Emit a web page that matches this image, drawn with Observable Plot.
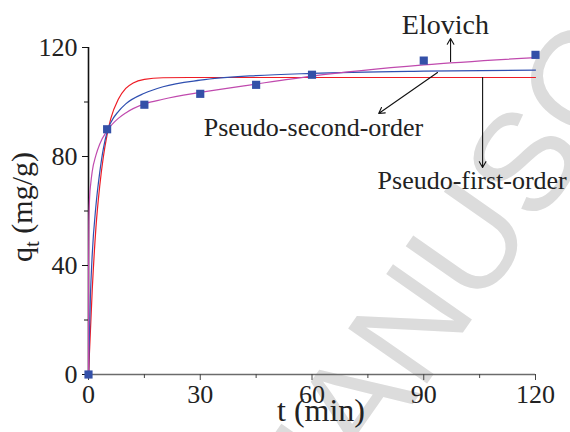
<!DOCTYPE html>
<html>
<head>
<meta charset="utf-8">
<script src="https://cdn.jsdelivr.net/npm/d3@7"></script>
<script src="https://cdn.jsdelivr.net/npm/@observablehq/plot@0.6"></script>
<style>
  html, body { margin: 0; padding: 0; background: #fff; overflow: hidden; }
  #chart { width: 570px; height: 432px; }
</style>
</head>
<body>
<div id="chart"></div>
<script>
// Experimental data (squares)
const expT = [0, 5, 15, 30, 45, 60, 90, 120];
const expQ = [0, 90, 99, 103, 106.3, 110, 115.2, 117.3];

// Pseudo-first-order fitted curve (red)
const pfoT = [0, 1, 2, 3, 4, 5, 6, 8, 10, 12, 15, 20, 30, 60, 90, 120];
const pfoQ = [0, 31, 54, 69, 80, 88, 94, 101, 105, 107, 108.3, 108.9, 109, 109, 109, 109];

// Pseudo-second-order fitted curve (blue)
const psoT = [0, 0.5, 1, 2, 3, 4, 5, 6, 8, 10, 15, 20, 30, 45, 60, 90, 120];
const psoQ = [0, 28, 44, 62, 74, 83, 89, 92.5, 96.5, 99.3, 103.2, 105.6, 108, 109.7, 110.5, 111.3, 111.7];

// Elovich fitted curve (magenta)
const eloT = [0, 0.02, 0.1, 0.3, 0.6, 1, 2, 3, 5, 8, 10, 15, 20, 30, 45, 60, 90, 120];
const eloQ = [0, 40, 56, 65, 70, 74.5, 80.5, 84.5, 89.5, 94, 96, 99.3, 101, 103.5, 106.6, 109.5, 113.6, 116.3];

// Axis ticks
const xMajor = [0, 30, 60, 90, 120];
const xMinor = [15, 45, 75, 105];
const yMajor = [0, 40, 80, 120];
const yMinor = [20, 60, 100];

// Annotations
const labels = ["Elovich", "Pseudo-second-order", "Pseudo-first-order"];
const labelSize = [28, 26, 26];
const labelX = [95.8, 60.4, 103];
const labelY = [128.4, 90.6, 71.2];
const arrowX1 = [97.2, 93.7, 105.8];
const arrowY1 = [114.9, 110.8, 109];
const arrowX2 = [97.2, 77.9, 105.8];
const arrowY2 = [123.3, 95.8, 76];

// Watermark text
const watermark = "MANUSCRIPT";

const toPts = (xs, ys) => xs.map((x, i) => ({x, y: ys[i]}));
const exp = toPts(expT, expQ);
const pfo = toPts(pfoT, pfoQ);
const pso = toPts(psoT, psoQ);
const elo = toPts(eloT, eloQ);
const ann = labels.map((s, i) => ({s, x: labelX[i], y: labelY[i], size: labelSize[i]}));
const arr = arrowX1.map((x1, i) => ({x1, y1: arrowY1[i], x2: arrowX2[i], y2: arrowY2[i]}));

const serif = "Liberation Serif";

const plot = Plot.plot({
  width: 570,
  height: 432,
  marginLeft: 88,
  marginRight: 35,
  marginTop: 47,
  marginBottom: 58,
  style: {background: "#fff", overflow: "visible", color: "#222", fontFamily: serif},
  x: {domain: [0, 120]},
  y: {domain: [0, 120]},
  marks: [
    Plot.ruleY([0], {stroke: "#6b6b6b", strokeWidth: 1.6}),
    Plot.ruleX([0], {stroke: "#111", strokeWidth: 1.6}),
    Plot.axisX({ticks: xMajor, tickSize: 6, tickPadding: 4, fontSize: 26, label: null, stroke: "#444", fontFamily: serif}),
    Plot.axisX({ticks: xMinor, tickSize: 4, tickFormat: () => "", label: null, stroke: "#444"}),
    Plot.axisY({ticks: yMajor, tickSize: 6, tickPadding: 5, fontSize: 26, label: null, stroke: "#111", fontFamily: serif}),
    Plot.axisY({ticks: yMinor, tickSize: 4, tickFormat: () => "", label: null, stroke: "#111"}),
    Plot.line(pfo, {x: "x", y: "y", stroke: "#ee1c25", strokeWidth: 1.2, curve: "monotone-x"}),
    Plot.line(pso, {x: "x", y: "y", stroke: "#2f4fb0", strokeWidth: 1.2, curve: "monotone-x"}),
    Plot.line(elo, {x: "x", y: "y", stroke: "#c04aae", strokeWidth: 1.2, curve: "monotone-x"}),
    Plot.dot(exp, {x: "x", y: "y", symbol: "square", r: 4.6, fill: "#3450a8", stroke: "none"}),
    Plot.arrow(arr, {x1: "x1", y1: "y1", x2: "x2", y2: "y2", stroke: "#111", strokeWidth: 1.1, headLength: 9}),
    Plot.text(ann, {x: "x", y: "y", text: "s", fontSize: (d) => d.size, fill: "#222", fontFamily: serif})
  ]
});

const svg = d3.select(plot);
svg.attr("font-family", serif);

// watermark behind everything
svg.insert("text", ":first-child")
  .attr("transform", "translate(300,565) rotate(-55)")
  .attr("text-anchor", "start")
  .attr("font-family", "Liberation Sans")
  .attr("font-size", 140)
  .attr("fill", "#dcdcdc")
  .text(watermark);

// y-axis label with subscript
const yl = svg.append("text")
  .attr("transform", "translate(32,207) rotate(-90)")
  .attr("text-anchor", "middle")
  .attr("font-size", 30)
  .attr("fill", "#222")
  .attr("font-family", serif);
yl.append("tspan").text("q");
yl.append("tspan").attr("font-size", 21).attr("dy", 7).text("t");
yl.append("tspan").attr("dy", -7).text(" (mg/g)");
// x-axis label
svg.append("text")
  .attr("x", 321).attr("y", 421)
  .attr("text-anchor", "middle")
  .attr("font-size", 32)
  .attr("fill", "#222")
  .attr("font-family", serif)
  .text("t (min)");

document.getElementById("chart").appendChild(plot);
</script>
</body>
</html>
